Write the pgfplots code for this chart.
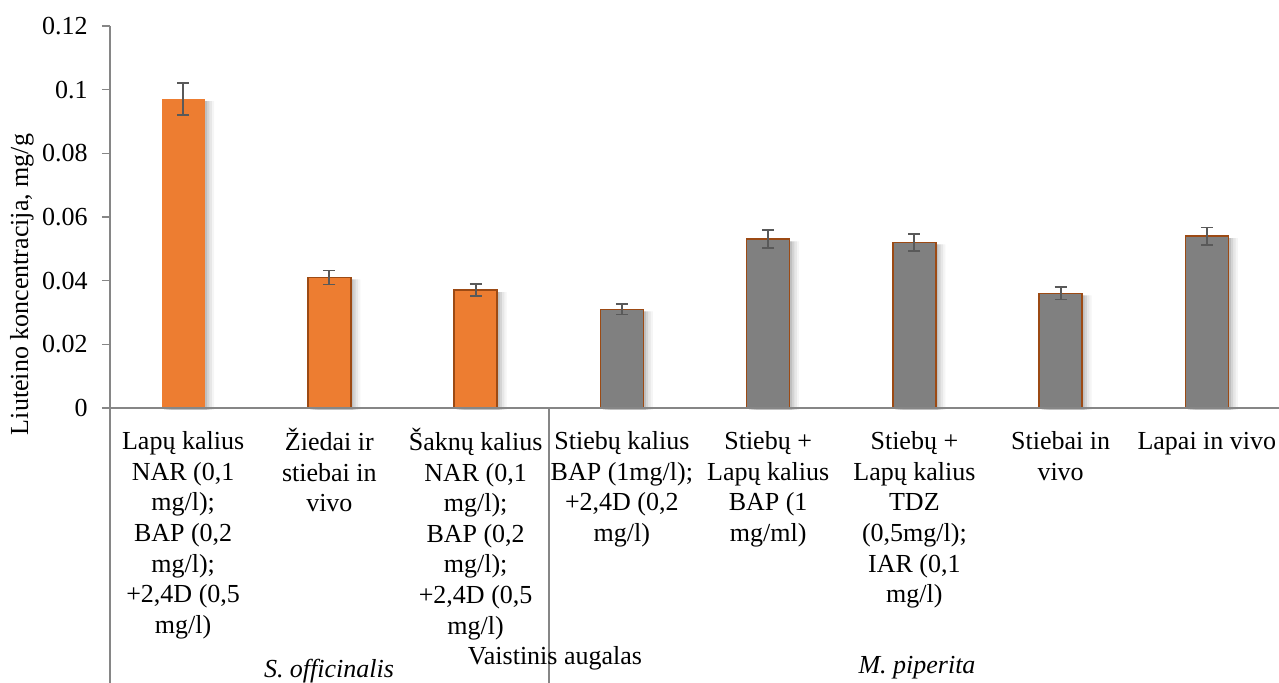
\documentclass[border=0pt]{standalone}
\usepackage{pgfplots}
\pgfplotsset{compat=1.18}
\usepackage{fontspec}
\setmainfont{Liberation Serif}
\definecolor{orng}{HTML}{ED7D31}
\definecolor{brn}{HTML}{9C4A14}
\definecolor{barg}{HTML}{808080}
\definecolor{axg}{HTML}{868686}
\definecolor{errg}{HTML}{595959}
\pgfplotsset{shad/.style={ybar, bar width=21.5pt, yshift=-1pt, fill=black, draw=none}}
\begin{document}
\fontsize{13}{15.3}\selectfont
\begin{tikzpicture}[font=\fontsize{13}{15.3}\selectfont]
\useasboundingbox (-55pt,-137.5pt) rectangle (584.5pt,204pt);
\begin{axis}[
  at={(0,0)}, anchor=south west,
  scale only axis, width=585pt, height=191pt,
  xmin=-0.5, xmax=7.5, ymin=0, ymax=0.12,
  axis lines*=left,
  x axis line style={draw=none}, y axis line style={draw=none},
  clip=false,
  tick align=outside, major tick length=4pt,
  ytick pos=left,
  ytick={0,0.02,0.04,0.06,0.08,0.1,0.12},
  yticklabels={0,0.02,0.04,0.06,0.08,0.1,0.12},
  ytick style={draw=axg, line width=0.75pt},
  xtick style={draw=none},
  xtick={0,1,2,3,4,5,6,7},
  xticklabels={
    {\strut Lapų kalius\\NAR (0,1\\mg/l);\\BAP (0,2\\mg/l);\\+2,4D (0,5\\mg/l)},
    {\strut Žiedai ir\\stiebai in\\vivo},
    {\strut Šaknų kalius\\NAR (0,1\\mg/l);\\BAP (0,2\\mg/l);\\+2,4D (0,5\\mg/l)},
    {\strut Stiebų kalius\\BAP (1mg/l);\\+2,4D (0,2\\mg/l)},
    {\strut Stiebų +\\Lapų kalius\\BAP (1\\mg/ml)},
    {\strut Stiebų +\\Lapų kalius\\TDZ\\(0,5mg/l);\\IAR (0,1\\mg/l)},
    {\strut Stiebai in\\vivo},
    {\strut Lapai in vivo}},
  yticklabel style={anchor=east, inner sep=0pt, xshift=-7pt, font=\fontsize{13}{15.3}\selectfont},
  xticklabel style={anchor=north, align=center, inner sep=0pt, yshift=-5.9pt, font=\fontsize{13}{15.3}\selectfont},
  /pgf/number format/assume math mode=true,
]
% shadows
\addplot[shad, bar shift=1.2pt, fill opacity=0.10]
  coordinates {(0,0.097) (1,0.041) (2,0.037) (3,0.031) (4,0.053) (5,0.052) (6,0.036) (7,0.054)};
\addplot[shad, bar shift=2.4pt, fill opacity=0.08]
  coordinates {(0,0.097) (1,0.041) (2,0.037) (3,0.031) (4,0.053) (5,0.052) (6,0.036) (7,0.054)};
\addplot[shad, bar shift=3.6pt, fill opacity=0.06]
  coordinates {(0,0.097) (1,0.041) (2,0.037) (3,0.031) (4,0.053) (5,0.052) (6,0.036) (7,0.054)};
\addplot[shad, bar shift=4.8pt, fill opacity=0.04]
  coordinates {(0,0.097) (1,0.041) (2,0.037) (3,0.031) (4,0.053) (5,0.052) (6,0.036) (7,0.054)};
% orange, first bar without border
\addplot[ybar, bar width=21.5pt, bar shift=0pt, fill=orng, draw=none,
  error bars/.cd, y dir=both, y explicit,
  error bar style={line width=0.9pt, color=errg},
  error mark options={rotate=90, mark size=3pt, line width=0.9pt, color=errg}]
  coordinates {(0,0.097) +- (0,0.005)};
\addplot[ybar, bar width=21.5pt, bar shift=0pt, fill=orng, draw=brn, line width=0.8pt,
  error bars/.cd, y dir=both, y explicit,
  error bar style={line width=0.9pt, color=errg},
  error mark options={rotate=90, mark size=3pt, line width=0.9pt, color=errg}]
  coordinates {(1,0.041) +- (0,0.0022) (2,0.037) +- (0,0.0019)};
\addplot[ybar, bar width=21.5pt, bar shift=0pt, fill=barg, draw=brn, line width=0.8pt,
  error bars/.cd, y dir=both, y explicit,
  error bar style={line width=0.9pt, color=errg},
  error mark options={rotate=90, mark size=3pt, line width=0.9pt, color=errg}]
  coordinates {(3,0.031) +- (0,0.0016) (4,0.053) +- (0,0.0028) (5,0.052) +- (0,0.0027)
               (6,0.036) +- (0,0.0019) (7,0.054) +- (0,0.0027)};
\draw[axg, line width=0.75pt] (axis cs:-0.5,0.12) -- (axis cs:-0.5,0) -- ++(0pt,-140pt);
\draw[axg, line width=0.75pt] (axis cs:-0.5,0) -- (axis cs:7.5,0);
\draw[axg, line width=0.75pt] (axis cs:2.5,0) -- ++(0pt,-140pt);
\end{axis}
\node[rotate=90] at (-44pt,61.75pt) {Liuteino koncentracija, mg/g};
\node[anchor=base] at (109.5pt,-135pt) {\itshape S. officinalis};
\node[anchor=base] at (222.5pt,-128.5pt) {Vaistinis augalas};
\node[anchor=base] at (403.5pt,-133pt) {\itshape M. piperita};
\end{tikzpicture}
\end{document}
